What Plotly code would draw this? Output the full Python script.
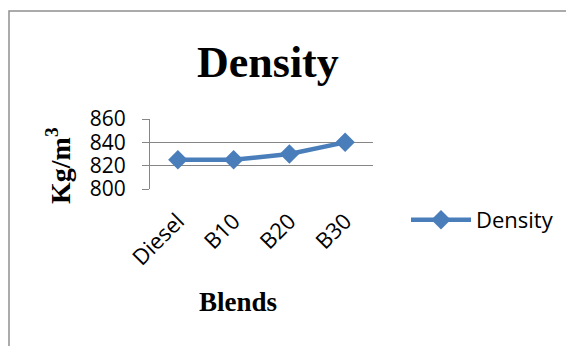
import plotly.graph_objects as go

categories = ["Diesel", "B10", "B20", "B30"]
density = [825, 825, 830, 840]
y_ticks = [800, 820, 840, 860]

# page body has a default 8px margin; lay out in window pixels and compensate
OFF = 8
W, H = 574 - OFF, 346 - OFF
L, R, T, B = 150 - OFF, 373 - OFF, 119 - OFF, 189 - OFF  # plot area in figure pixels
pw, ph = R - L, B - T

def px(x):  # window pixel x -> paper
    return (x - OFF - L) / pw

def py(y):  # window pixel y -> paper
    return (B - (y - OFF)) / ph

color = "#4A7EBB"
sans = "Open Sans, Liberation Sans"
serif = "Liberation Serif, Times New Roman"

fig = go.Figure()
fig.add_trace(go.Scatter(
    x=categories, y=density, name="Density", mode="lines+markers",
    line=dict(color=color, width=4.5),
    marker=dict(symbol="diamond", size=15, color=color),
))

fig.update_layout(
    width=W, height=H,
    margin=dict(l=L, r=W - R, t=T, b=H - B, autoexpand=False),
    paper_bgcolor="white", plot_bgcolor="white",
    showlegend=True,
    legend=dict(x=px(406), y=py(220), xanchor="left", yanchor="middle",
                font=dict(family=sans, size=22, color="black"),
                bgcolor="rgba(0,0,0,0)", itemwidth=60),
    xaxis=dict(
        type="category", tickangle=-45, showgrid=False,
        showline=False, ticks="", ticklabelstandoff=14,
        tickfont=dict(family=sans, size=22, color="black"),
        range=[-0.5, 3.5],
    ),
    yaxis=dict(
        range=[800, 860], tickvals=y_ticks, showgrid=True, gridcolor="#868686",
        gridwidth=1, showline=True, linecolor="#868686", linewidth=1,
        ticks="outside", ticklen=7, tickcolor="#868686", zeroline=False,
        ticklabelstandoff=12,
        tickfont=dict(family=sans, size=21, color="black"),
    ),
    annotations=[
        dict(text="<b>Density</b>", x=px(268), y=py(62), xref="paper", yref="paper",
             showarrow=False, font=dict(family=serif, size=44, color="black"),
             xanchor="center", yanchor="middle"),
        dict(text="<b>Kg/m<sup>3</sup></b>", x=px(58), y=py(166), xref="paper", yref="paper",
             showarrow=False, textangle=-90,
             font=dict(family=serif, size=28, color="black"),
             xanchor="center", yanchor="middle"),
        dict(text="<b>Blends</b>", x=px(238), y=py(302), xref="paper", yref="paper",
             showarrow=False, font=dict(family=serif, size=27, color="black"),
             xanchor="center", yanchor="middle"),
    ],
    shapes=[
        dict(type="rect", xref="paper", yref="paper",
             x0=px(9), x1=px(590), y0=py(360), y1=py(11),
             line=dict(color="#909090", width=1.5), fillcolor="rgba(0,0,0,0)", layer="below"),
    ],
)

fig.write_html("out.html")
